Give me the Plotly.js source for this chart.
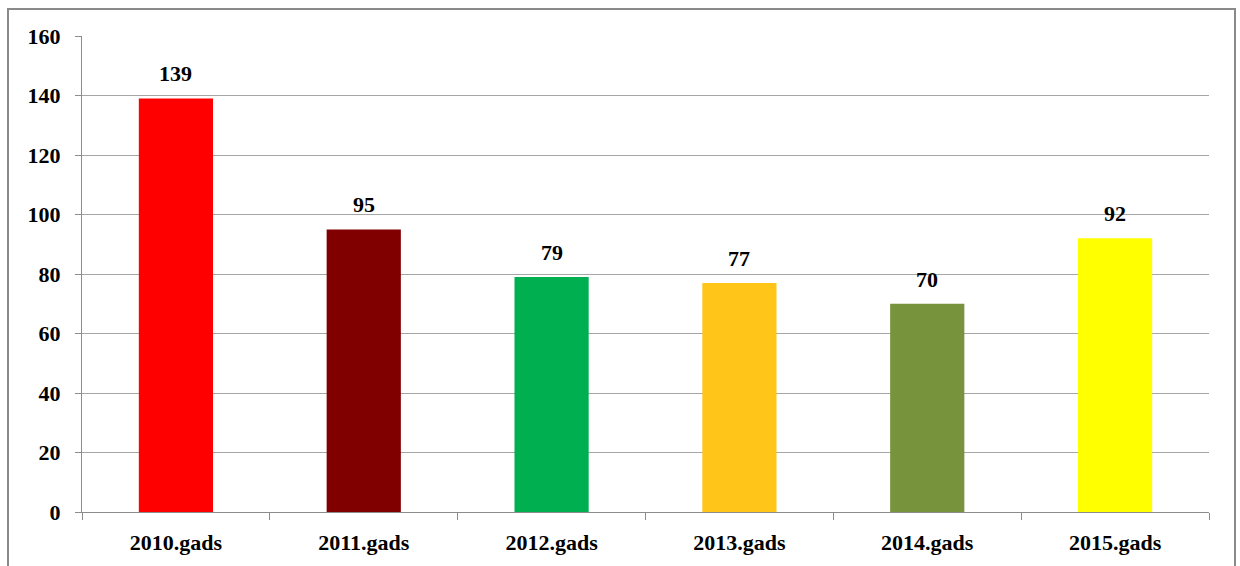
<!DOCTYPE html>
<html>
<head>
<meta charset="utf-8">
<script src="https://cdn.plot.ly/plotly-3.0.1.min.js"></script>
<style>
html,body{margin:0;padding:0;background:#fff;}
#wrap{position:relative;width:1240px;height:566px;overflow:hidden;}
#chart{position:absolute;left:0;top:0;width:1240px;height:566px;}
#frame{position:absolute;left:7px;top:8px;width:1225px;height:600px;border:2px solid #8a8a8a;pointer-events:none;}
</style>
</head>
<body>
<div id="wrap"><div id="chart"></div><div id="frame"></div></div>
<script>
const categories = ["2010.gads","2011.gads","2012.gads","2013.gads","2014.gads","2015.gads"];
const values = [139, 95, 79, 77, 70, 92];
const barColors = ["#FF0000","#800000","#00B050","#FFC519","#77933C","#FFFF00"];
const yTicks = [0,20,40,60,80,100,120,140,160];

const FAM = "Liberation Serif";
const font = {family:FAM, size:22, color:"#000"};

const trace = {
  type:"bar",
  x: categories,
  y: values,
  marker:{color: barColors, line:{width:0}},
  hoverinfo:"none"
};

const annotations = categories.map((c,i)=>({
  x:c, y:values[i], xref:"x", yref:"y",
  text:"<b>"+values[i]+"</b>", showarrow:false,
  yanchor:"bottom", yshift:10,
  font:font
}));

const layout = {
  width:1240, height:566,
  margin:{l:82, r:31, t:36, b:54},
  paper_bgcolor:"#fff", plot_bgcolor:"#fff",
  bargap:0.605,
  showlegend:false,
  font:font,
  xaxis:{
    type:"category",
    tickson:"boundaries",
    ticks:"outside", ticklen:7, tickcolor:"#8c8c8c", tickwidth:1,
    showline:true, linecolor:"#8c8c8c", linewidth:1,
    showgrid:false,
    tickfont:{family:FAM, size:22, color:"#000", weight:"bold"},
    ticklabelstandoff:11,
    fixedrange:true
  },
  yaxis:{
    range:[0,160],
    tickvals:yTicks,
    ticktext:yTicks.map(String),
    ticks:"outside", ticklen:6, tickcolor:"#8c8c8c", tickwidth:1,
    showline:true, linecolor:"#8c8c8c", linewidth:1,
    showgrid:true, gridcolor:"#a6a6a6", gridwidth:1,
    zeroline:false,
    tickfont:{family:FAM, size:22, color:"#000", weight:"bold"},
    ticklabelstandoff:10,
    fixedrange:true
  },
  annotations:annotations
};

Plotly.newPlot("chart",[trace],layout,{displayModeBar:false,staticPlot:true});
</script>
</body>
</html>
